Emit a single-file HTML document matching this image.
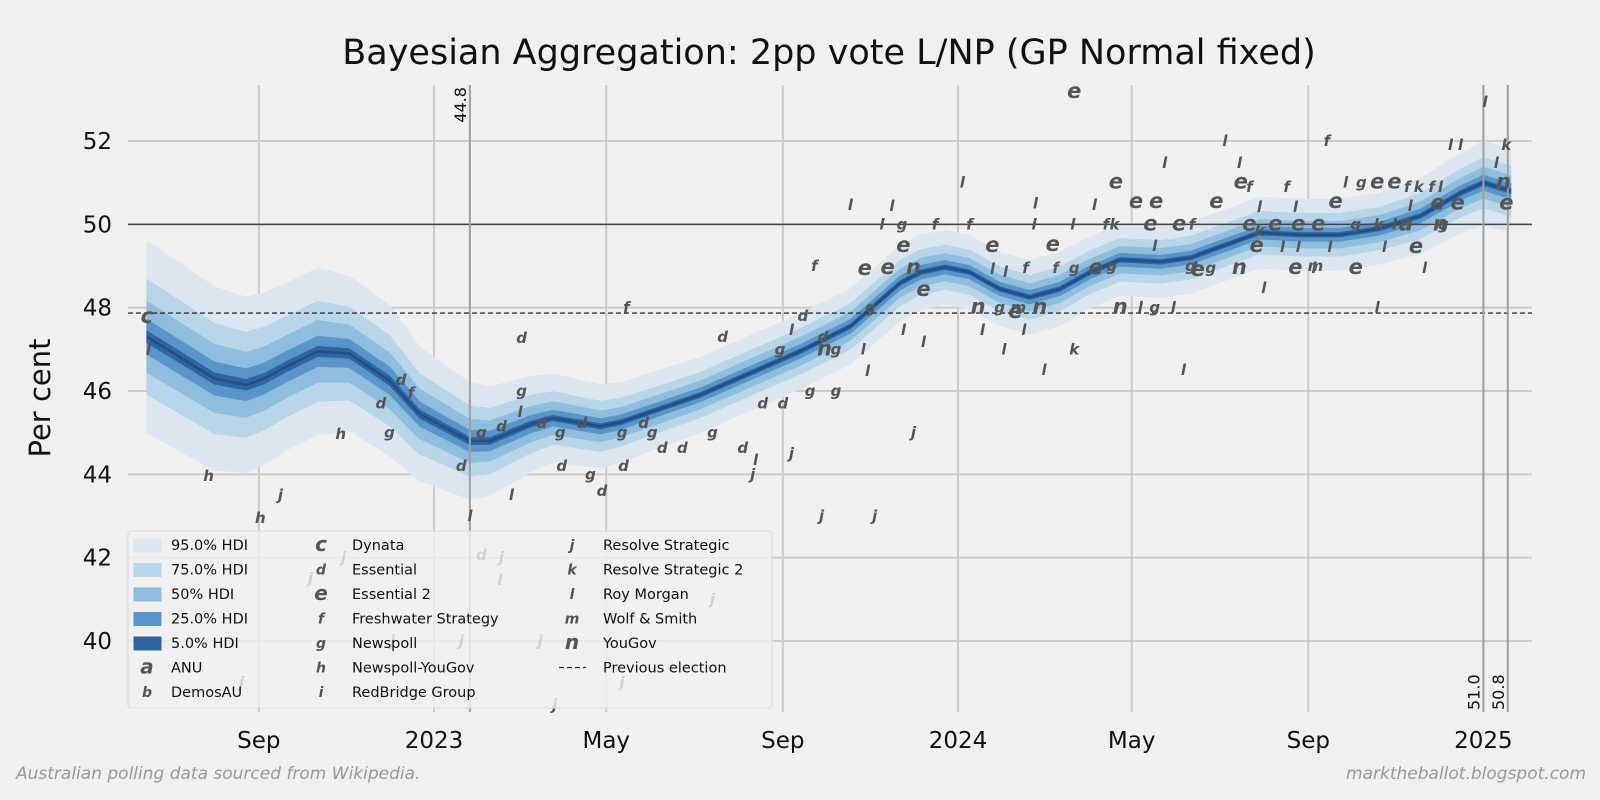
<!DOCTYPE html>
<html><head><meta charset="utf-8"><style>
html,body{margin:0;padding:0;background:#f0f0f0;overflow:hidden;}
svg{display:block;position:absolute;left:0;top:0;width:100vw;height:100vh;font-family:"DejaVu Sans","Liberation Sans",sans-serif;}
</style></head><body>
<svg id="chart" viewBox="0 0 1600 800" preserveAspectRatio="none" xmlns="http://www.w3.org/2000/svg">
<rect x="0" y="0" width="1600" height="800" fill="#f0f0f0"/>
<text x="829" y="64" text-anchor="middle" font-size="35" fill="#111">Bayesian Aggregation: 2pp vote L/NP (GP Normal fixed)</text>
<text x="50" y="398" text-anchor="middle" font-size="29" fill="#111" transform="rotate(-90 50 398)">Per cent</text>
<g id="grid"></g>
<g id="bands"></g>
<g id="refs"></g>
<g id="points"></g>
<g id="axes"></g>
<g id="legend"></g>
<text x="16" y="779" font-size="17" font-style="italic" fill="#999">Australian polling data sourced from Wikipedia.</text>
<text x="1586" y="779" text-anchor="end" font-size="17" font-style="italic" fill="#999">marktheballot.blogspot.com</text>
</svg>
<script>
// days are counted from 2023-01-01
const trendDays = [-200,-153,-131,-118,-102,-81,-59,-31,-10,25,39,67,83,116,130,185,255,290,325,339,356,373,394,415,436,457,478,506,527,555,575,603,631,659,687,715,731,750];
const trendMedian = [47.3,46.3,46.15,46.3,46.6,46.95,46.9,46.25,45.45,44.8,44.8,45.2,45.35,45.15,45.25,45.9,46.95,47.55,48.6,48.85,48.97,48.85,48.45,48.25,48.45,48.85,49.15,49.1,49.2,49.55,49.8,49.75,49.75,49.9,50.2,50.75,51.0,50.8];
const trendHw95 = [2.3,2.2,2.1,2.05,2.0,2.0,1.85,1.8,1.6,1.4,1.3,1.15,1.05,1.0,0.95,0.9,0.9,0.9,0.9,0.9,0.88,0.88,0.88,0.88,0.88,0.85,0.85,0.85,0.85,0.85,0.85,0.85,0.85,0.85,0.9,0.95,1.0,1.0];
const bandLabels = ["95.0% HDI","75.0% HDI","50% HDI","25.0% HDI","5.0% HDI"];
const bandRatios = [1.0,0.6,0.37,0.18,0.06];
const bandColors = ["#dce6f0","#b9d5e8","#8fbddd","#5896c9","#2f64a0"];
const yTicks = [40,42,44,46,48,50,52];
const xTickDays = [-122,0,120,243,365,486,609,731];
const xTickLabels = ["Sep","2023","May","Sep","2024","May","Sep","2025"];
const previousElection = 47.87;
const markDays = [25,731,748];
const markLabels = ["44.8","51.0","50.8"];
const pollDays = [-200,-199,-157,-121,-107,-134,-86,-63,-65,-31,-37,-23,-16,19,33,47,60,61,61,75,88,103,131,146,152,159,173,194,215,224,222,249,229,243,262,280,270,307,334,302,299,271,272,280,249,241,257,201,134,54,25,89,109,132,117,33,47,46,74,19,-29,84,131,194,
265,300,316,290,319,312,326,349,373,327,334,341,304,327,341,368,419,389,389,398,412,433,431,446,445,418,379,394,407,422,405,411,382,397,425,446,446,460,475,468,474,472,461,489,503,499,519,528,509,502,522,478,492,502,515,562,568,561,551,545,575,575,594,622,600,628,573,591,602,624,568,586,602,616,642,658,669,677,642,613,600,614,662,684,690,657,578,541,530,532,561,527,635,646,657,669,678,695,686,680,699,713,701,701,703,708,715,732,740,747,745,747];
const pollValues = [47.78,46.98,43.96,42.95,43.5,39.0,41.5,42.0,44.97,45.0,45.7,46.26,45.95,44.2,45.0,45.15,45.5,46.0,47.27,45.23,45.0,45.23,45.0,45.23,45.0,44.63,44.63,45.0,44.63,44.34,44.0,44.5,45.7,45.7,46.0,46.0,43.0,43.0,45.0,46.48,47.0,47.3,47.0,47.0,47.46,47.0,47.8,47.3,48.0,43.5,43.0,44.2,44.0,44.2,43.6,42.06,42.0,41.46,40.0,40.0,40.0,38.46,39.0,41.0,
49.0,48.93,48.95,50.46,50.44,50.0,50.0,50.0,50.0,49.48,48.95,48.42,48.0,47.46,47.18,51.0,50.5,49.48,48.93,48.86,48.95,48.95,49.5,48.95,50.0,50.0,48.0,48.0,48.0,48.0,47.9,47.46,47.46,47.0,46.5,47.0,53.18,50.46,51.0,50.0,50.0,49.0,48.95,50.53,50.53,50.0,50.0,50.0,51.47,49.48,46.5,48.0,48.0,48.0,48.0,51.0,50.9,51.47,52.0,50.53,50.42,49.84,50.9,52.0,50.42,50.53,49.48,49.46,49.46,49.46,50.0,50.0,50.0,50.0,50.0,50.0,50.0,50.0,48.95,48.95,48.95,49.0,49.46,49.46,48.95,48.0,48.47,48.95,48.95,48.9,48.95,49.0,51.0,51.0,51.0,51.0,50.9,50.9,50.9,50.44,50.5,50.5,50.9,50.0,50.0,51.9,51.9,52.94,51.47,51.9,51.0,50.5];
const pollLetters = ("clhhjjjjhg"+"ddfdgdlgdd"+"gdgdgddgdl"+"jjddggjjjl"+"ldnglgddfl"+"ldgdddjljj"+"jjjj"+
 "feelllgff"+"enegllllele".slice(0,10)+"lffeglLngm".replace("L","l")+"nellllkele"+"fkgeeeeefl"+"llnlglefll"+"elkfflee ll".replace(" ","")+"leeeegklae"+"lemlelllgl"+"englgeeffk"+"leelngllll"+"kne").split("");
const legendPollsters = [["a","ANU"],["b","DemosAU"],["c","Dynata"],["d","Essential"],["e","Essential 2"],["f","Freshwater Strategy"],["g","Newspoll"],["h","Newspoll-YouGov"],["i","RedBridge Group"],["j","Resolve Strategic"],["k","Resolve Strategic 2"],["l","Roy Morgan"],["m","Wolf & Smith"],["n","YouGov"]];

const NS="http://www.w3.org/2000/svg";
const PX0=128, PX1=1532, PY0=85, PY1=712;
function xOf(d){return 434+d*1.4356;}
function yOf(v){return 641-(v-40)*41.667;}
function mk(tag,attrs,parent){const e=document.createElementNS(NS,tag);for(const k in attrs)e.setAttribute(k,attrs[k]);parent.appendChild(e);return e;}

const grid=document.getElementById('grid');
yTicks.forEach(v=>{
  const l=mk('line',{x1:PX0,x2:PX1,y1:yOf(v),y2:yOf(v),stroke:'#cbcbcb','stroke-width':2},grid);
  
  
});
xTickDays.forEach(d=>{
  const l=mk('line',{x1:xOf(d),x2:xOf(d),y1:PY0,y2:PY1,stroke:'#cbcbcb','stroke-width':2},grid);
  
  
});

const bands=document.getElementById('bands');
bandRatios.forEach((r,bi)=>{
  let up=[],dn=[];
  for(let i=0;i<trendDays.length;i++){
    up.push(xOf(trendDays[i]).toFixed(1)+','+yOf(trendMedian[i]+trendHw95[i]*r).toFixed(1));
    dn.unshift(xOf(trendDays[i]).toFixed(1)+','+yOf(trendMedian[i]-trendHw95[i]*r).toFixed(1));
  }
  const p=mk('polygon',{points:up.concat(dn).join(' '),fill:bandColors[bi],stroke:bandColors[bi],'stroke-width':1,'stroke-linejoin':'round'},bands);
  
  
});
const med=mk('polyline',{points:trendDays.map((d,i)=>xOf(d).toFixed(1)+','+yOf(trendMedian[i]).toFixed(1)).join(' '),fill:'none',stroke:'#1f4f8a','stroke-width':2.5,'stroke-linejoin':'round'},bands);



const refs=document.getElementById('refs');
const l50=mk('line',{x1:PX0,x2:PX1,y1:yOf(50),y2:yOf(50),stroke:'#444','stroke-width':1.5},refs);


const pe=mk('line',{x1:PX0,x2:PX1,y1:yOf(previousElection),y2:yOf(previousElection),stroke:'#333','stroke-width':1.3,'stroke-dasharray':'5,3'},refs);


markDays.forEach((d,i)=>{
  const x=xOf(d);
  const l=mk('line',{x1:x,x2:x,y1:PY0,y2:PY1,stroke:'#a0a0a0','stroke-width':2},refs);
  
  
  const ty=i===0?PY0+2:PY1-2;
  const t=mk('text',{x:x-4,y:ty,'font-size':16,fill:'#111','text-anchor':i===0?'end':'start',transform:`rotate(-90 ${x-4} ${ty})`},refs);
  t.textContent=markLabels[i];
  
  
});

const pts=document.getElementById('points');
for(let i=0;i<pollDays.length;i++){
  const ch=pollLetters[i]||'l';
  const big='ecna'.includes(ch);
  const t=mk('text',{x:xOf(pollDays[i]).toFixed(1),y:(yOf(pollValues[i])+(big?6:5)).toFixed(1),'text-anchor':'middle','font-size':big?21:15,'font-style':'italic','font-weight':'bold',fill:'#555'},pts);
  t.textContent=ch;
  
  
}

const axes=document.getElementById('axes');
yTicks.forEach(v=>{
  const t=mk('text',{x:112,y:yOf(v)+8,'text-anchor':'end','font-size':23,fill:'#111'},axes);
  t.textContent=v;
  
  
});
xTickDays.forEach((d,i)=>{
  const t=mk('text',{x:xOf(d),y:748,'text-anchor':'middle','font-size':23,fill:'#111'},axes);
  t.textContent=xTickLabels[i];
  
  
});

const lg=document.getElementById('legend');
const box=mk('rect',{x:128,y:531,width:644,height:177,rx:3,fill:'#f0f0f0','fill-opacity':0.8,stroke:'#d8d8d8'},lg);


const rowY=r=>545+r*24.5;
const entries=[];
bandLabels.forEach((b,i)=>entries.push({kind:'band',i,label:b}));
legendPollsters.forEach(p=>entries.push({kind:'poll',ch:p[0],label:p[1]}));
entries.push({kind:'dash',label:'Previous election'});
entries.forEach((e,k)=>{
  const col=Math.floor(k/7), row=k%7;
  const mx=[147,321,572][col], lx=[171,352,603][col];
  const y=rowY(row);
  const g=mk('g',{},lg);
  
  
  if(e.kind==='band'){
    mk('rect',{x:mx-13,y:y-6,width:27,height:13,fill:bandColors[e.i],stroke:bandColors[e.i]},g);
  }else if(e.kind==='poll'){
    const big='ecna'.includes(e.ch);
    const t=mk('text',{x:mx,y:y+(big?6:5),'text-anchor':'middle','font-size':big?20:14,'font-style':'italic','font-weight':'bold',fill:'#555'},g);
    t.textContent=e.ch;
  }else{
    mk('line',{x1:mx-13,x2:mx+14,y1:y,y2:y,stroke:'#333','stroke-width':1.3,'stroke-dasharray':'5,3'},g);
  }
  const t=mk('text',{x:lx,y:y+5,'font-size':14.5,fill:'#111'},g);
  t.textContent=e.label;
});
</script>
</body></html>
